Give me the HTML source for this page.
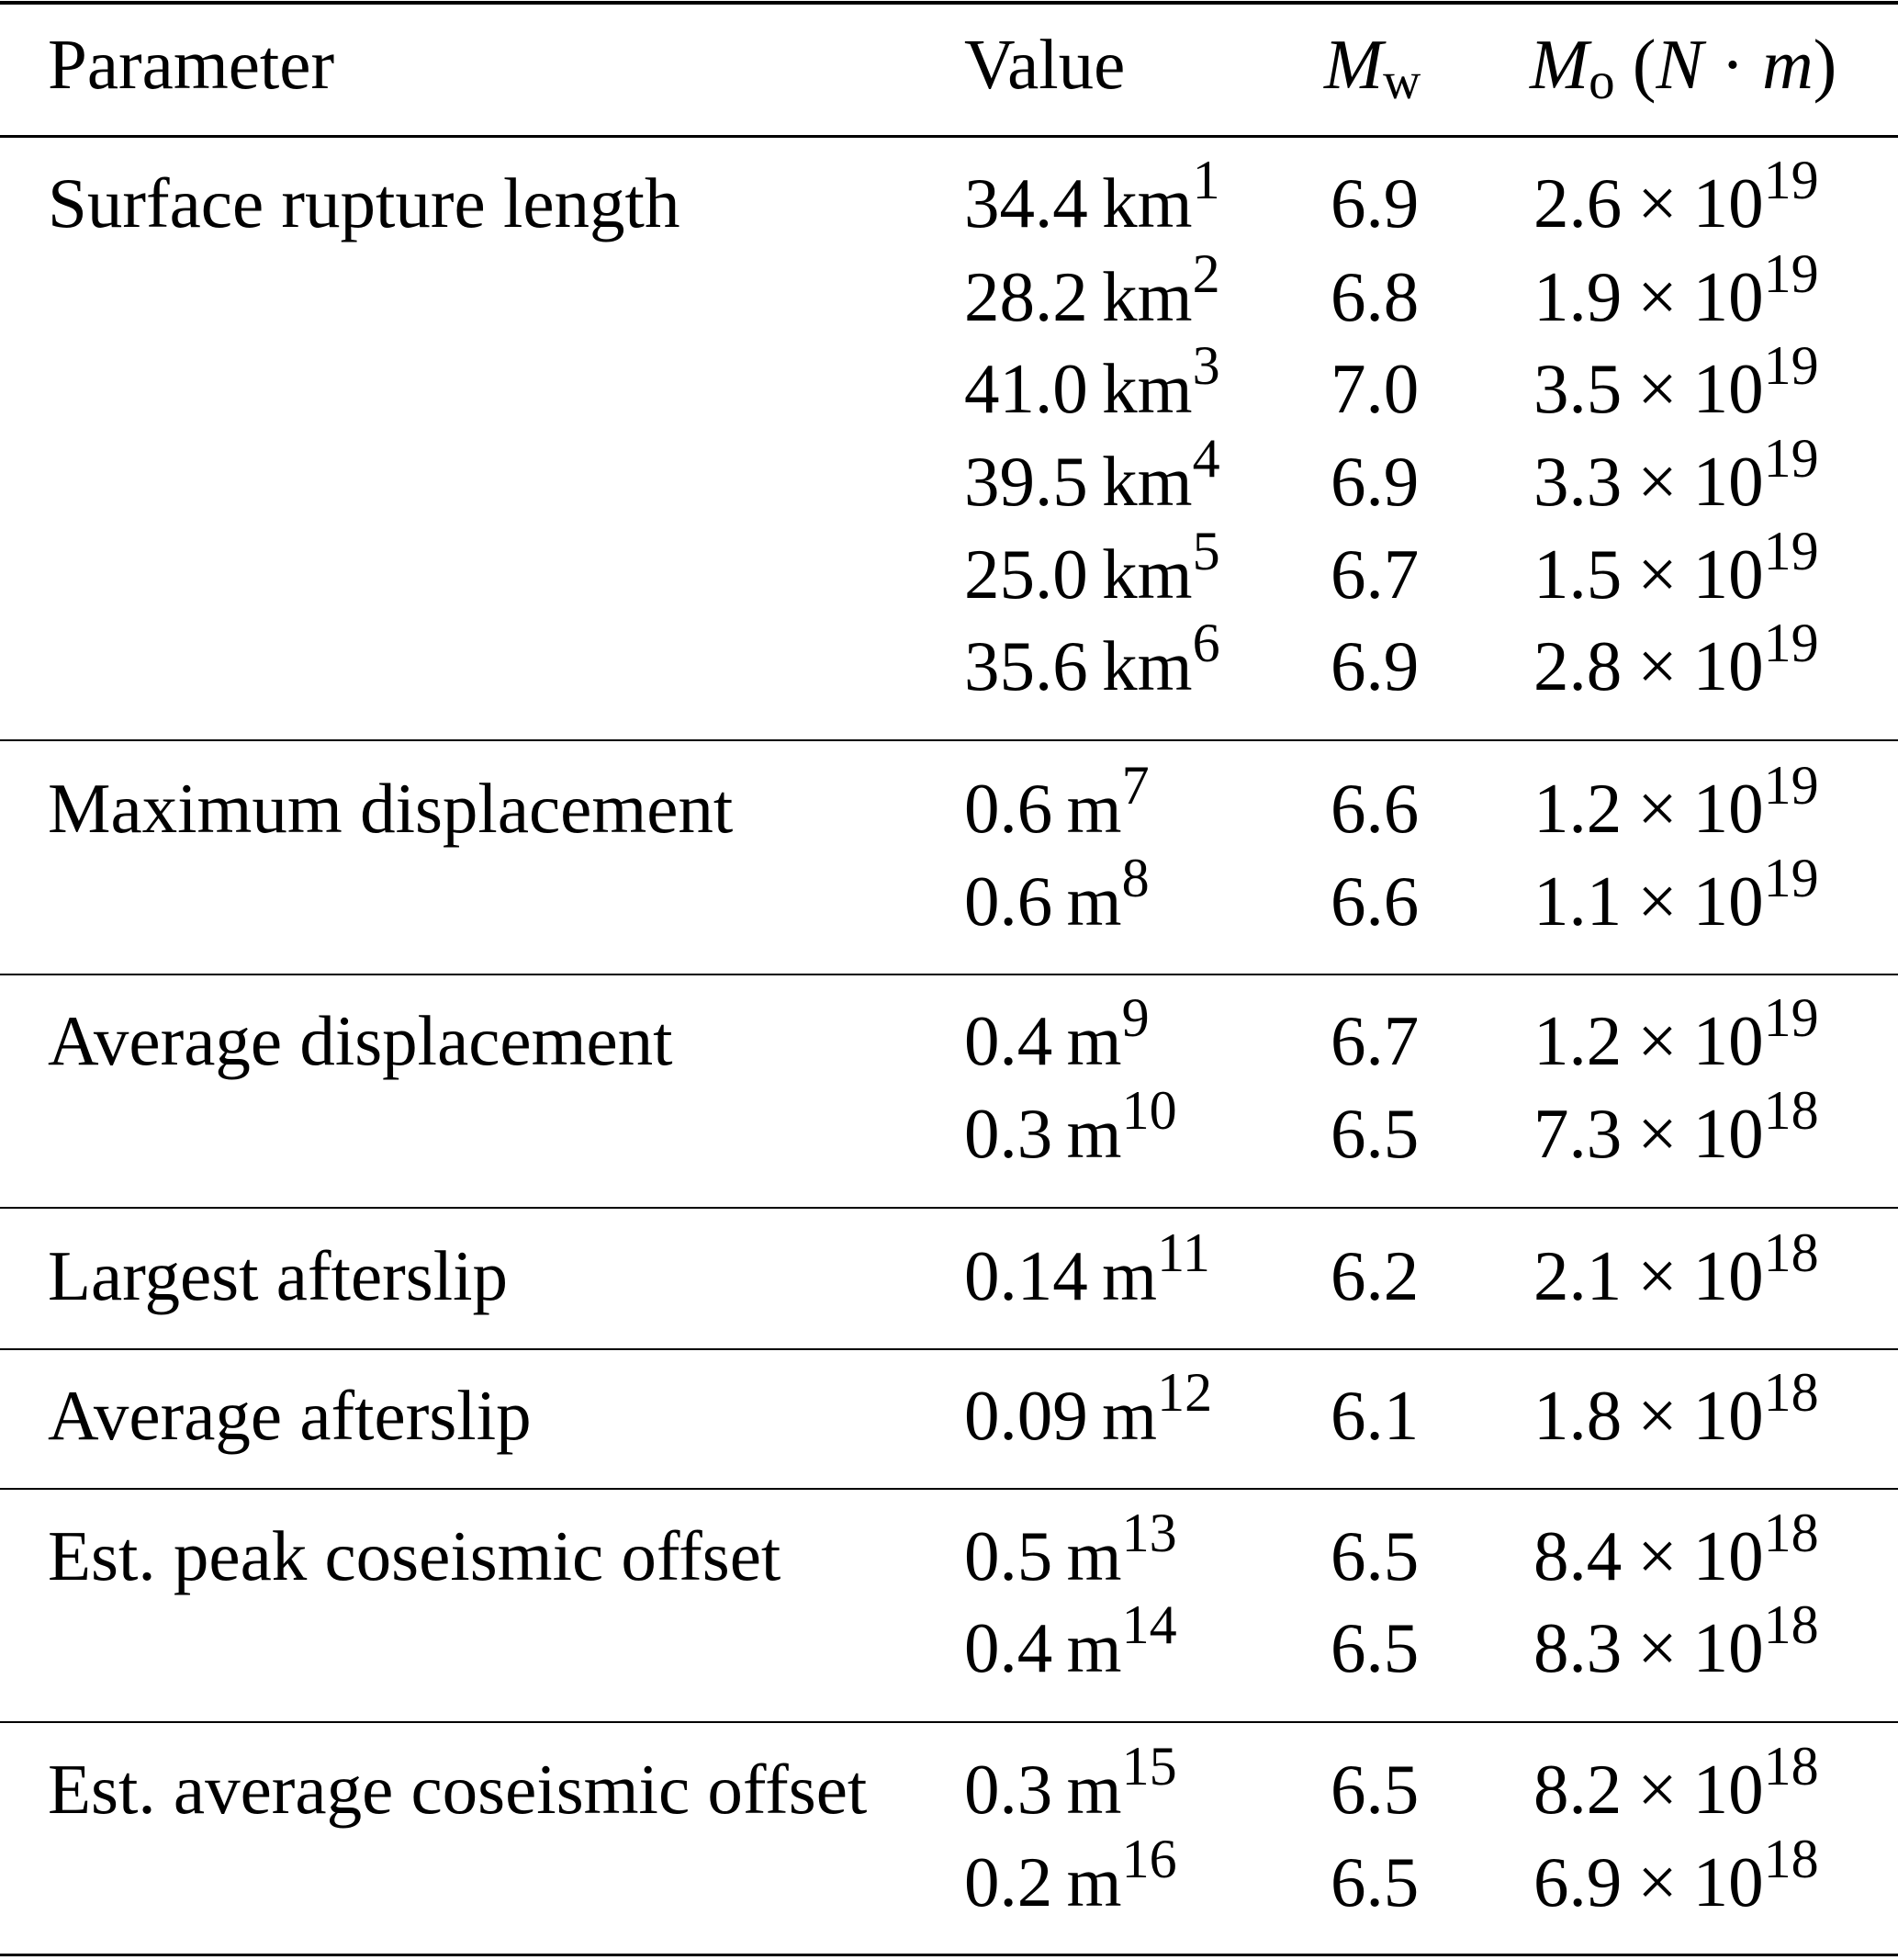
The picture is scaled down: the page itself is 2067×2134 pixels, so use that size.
<!DOCTYPE html>
<html><head><meta charset="utf-8"><style>
html,body{margin:0;padding:0;background:#fff;}
body{width:2067px;height:2134px;position:relative;overflow:hidden;font-family:"Liberation Serif",serif;color:#000;}
.r{position:absolute;left:0;width:2067px;background:#000;}
.t{position:absolute;font-size:77px;line-height:76px;white-space:nowrap;margin-top:-4px;}
sup{font-size:0.78em;vertical-align:0;position:relative;top:-0.52em;line-height:0;}
sub{font-size:0.74em;vertical-align:0;position:relative;top:0.2em;line-height:0;}
.x{display:inline-block;margin:0 0.22em;}
</style></head><body>
<div class="r" style="top:1px;height:4px"></div>
<div class="r" style="top:147px;height:3px"></div>
<div class="r" style="top:805px;height:2px"></div>
<div class="r" style="top:1060px;height:2px"></div>
<div class="r" style="top:1314px;height:2px"></div>
<div class="r" style="top:1468px;height:2px"></div>
<div class="r" style="top:1620px;height:2px"></div>
<div class="r" style="top:1874px;height:2px"></div>
<div class="r" style="top:2127px;height:3px"></div>

<div class="t" style="left:52px;top:36px">Parameter</div>
<div class="t" style="left:1050px;top:36px">Value</div>
<div class="t" style="left:1442px;top:36px"><i>M</i><sub>w</sub></div>
<div class="t" style="left:1666px;top:36px"><i>M</i><sub>o</sub> (<i>N</i> · <i>m</i>)</div>

<div class="t" style="left:52px;top:187px">Surface rupture length</div>
<div class="t" style="left:1050px;top:187px">34.4&#8201;km<sup>1</sup></div>
<div class="t" style="left:1449px;top:187px">6.9</div>
<div class="t" style="left:1670px;top:187px">2.6<span class="x">×</span>10<sup>19</sup></div>

<div class="t" style="left:1050px;top:289px">28.2&#8201;km<sup>2</sup></div>
<div class="t" style="left:1449px;top:289px">6.8</div>
<div class="t" style="left:1670px;top:289px">1.9<span class="x">×</span>10<sup>19</sup></div>

<div class="t" style="left:1050px;top:389px">41.0&#8201;km<sup>3</sup></div>
<div class="t" style="left:1449px;top:389px">7.0</div>
<div class="t" style="left:1670px;top:389px">3.5<span class="x">×</span>10<sup>19</sup></div>

<div class="t" style="left:1050px;top:490px">39.5&#8201;km<sup>4</sup></div>
<div class="t" style="left:1449px;top:490px">6.9</div>
<div class="t" style="left:1670px;top:490px">3.3<span class="x">×</span>10<sup>19</sup></div>

<div class="t" style="left:1050px;top:591px">25.0&#8201;km<sup>5</sup></div>
<div class="t" style="left:1449px;top:591px">6.7</div>
<div class="t" style="left:1670px;top:591px">1.5<span class="x">×</span>10<sup>19</sup></div>

<div class="t" style="left:1050px;top:691px">35.6&#8201;km<sup>6</sup></div>
<div class="t" style="left:1449px;top:691px">6.9</div>
<div class="t" style="left:1670px;top:691px">2.8<span class="x">×</span>10<sup>19</sup></div>

<div class="t" style="left:52px;top:846px">Maximum displacement</div>
<div class="t" style="left:1050px;top:846px">0.6&#8201;m<sup>7</sup></div>
<div class="t" style="left:1449px;top:846px">6.6</div>
<div class="t" style="left:1670px;top:846px">1.2<span class="x">×</span>10<sup>19</sup></div>

<div class="t" style="left:1050px;top:947px">0.6&#8201;m<sup>8</sup></div>
<div class="t" style="left:1449px;top:947px">6.6</div>
<div class="t" style="left:1670px;top:947px">1.1<span class="x">×</span>10<sup>19</sup></div>

<div class="t" style="left:52px;top:1099px">Average displacement</div>
<div class="t" style="left:1050px;top:1099px">0.4&#8201;m<sup>9</sup></div>
<div class="t" style="left:1449px;top:1099px">6.7</div>
<div class="t" style="left:1670px;top:1099px">1.2<span class="x">×</span>10<sup>19</sup></div>

<div class="t" style="left:1050px;top:1200px">0.3&#8201;m<sup>10</sup></div>
<div class="t" style="left:1449px;top:1200px">6.5</div>
<div class="t" style="left:1670px;top:1200px">7.3<span class="x">×</span>10<sup>18</sup></div>

<div class="t" style="left:52px;top:1355px">Largest afterslip</div>
<div class="t" style="left:1050px;top:1355px">0.14&#8201;m<sup>11</sup></div>
<div class="t" style="left:1449px;top:1355px">6.2</div>
<div class="t" style="left:1670px;top:1355px">2.1<span class="x">×</span>10<sup>18</sup></div>

<div class="t" style="left:52px;top:1507px">Average afterslip</div>
<div class="t" style="left:1050px;top:1507px">0.09&#8201;m<sup>12</sup></div>
<div class="t" style="left:1449px;top:1507px">6.1</div>
<div class="t" style="left:1670px;top:1507px">1.8<span class="x">×</span>10<sup>18</sup></div>

<div class="t" style="left:52px;top:1660px">Est. peak coseismic offset</div>
<div class="t" style="left:1050px;top:1660px">0.5&#8201;m<sup>13</sup></div>
<div class="t" style="left:1449px;top:1660px">6.5</div>
<div class="t" style="left:1670px;top:1660px">8.4<span class="x">×</span>10<sup>18</sup></div>

<div class="t" style="left:1050px;top:1760px">0.4&#8201;m<sup>14</sup></div>
<div class="t" style="left:1449px;top:1760px">6.5</div>
<div class="t" style="left:1670px;top:1760px">8.3<span class="x">×</span>10<sup>18</sup></div>

<div class="t" style="left:52px;top:1914px">Est. average coseismic offset</div>
<div class="t" style="left:1050px;top:1914px">0.3&#8201;m<sup>15</sup></div>
<div class="t" style="left:1449px;top:1914px">6.5</div>
<div class="t" style="left:1670px;top:1914px">8.2<span class="x">×</span>10<sup>18</sup></div>

<div class="t" style="left:1050px;top:2015px">0.2&#8201;m<sup>16</sup></div>
<div class="t" style="left:1449px;top:2015px">6.5</div>
<div class="t" style="left:1670px;top:2015px">6.9<span class="x">×</span>10<sup>18</sup></div>
</body></html>
